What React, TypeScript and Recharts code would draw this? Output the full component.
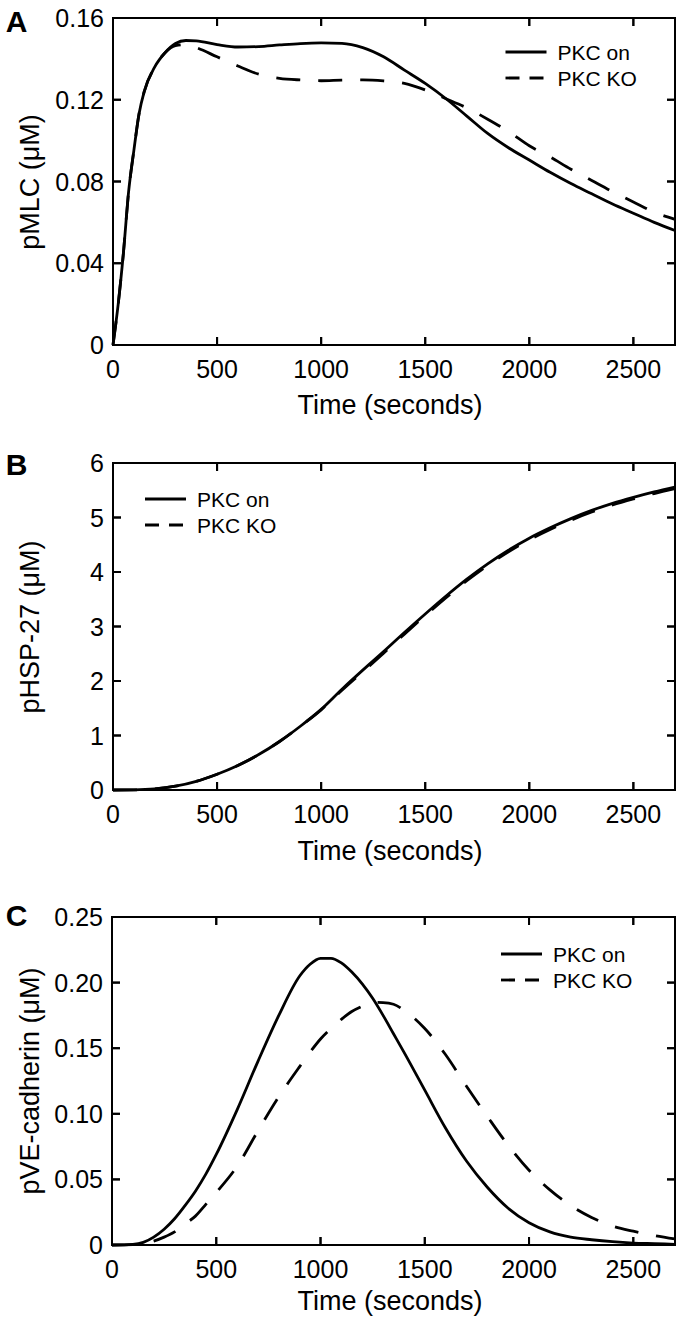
import React from "react";
import { LineChart, Line, XAxis, YAxis, ReferenceLine } from "recharts";

// ---------- DATA ----------
const xTicks = [0, 500, 1000, 1500, 2000, 2500];
const xMax = 2700;

const timeA = [0, 25, 50, 75, 100, 125, 150, 200, 250, 300, 350, 400, 500, 600, 700, 800, 900, 1000, 1100, 1200, 1300, 1400, 1500, 1600, 1700, 1800, 1900, 2000, 2100, 2200, 2300, 2400, 2500, 2600, 2700];
const pmlcOn = [0, 0.02, 0.045, 0.075, 0.095, 0.113, 0.124, 0.136, 0.143, 0.1475, 0.149, 0.1488, 0.147, 0.1458, 0.146, 0.1468, 0.1475, 0.1478, 0.1476, 0.1455, 0.141, 0.1345, 0.128, 0.1205, 0.112, 0.1035, 0.0965, 0.0905, 0.0845, 0.079, 0.074, 0.069, 0.0645, 0.060, 0.056];
const pmlcKO = [0, 0.02, 0.045, 0.075, 0.095, 0.113, 0.124, 0.136, 0.143, 0.1465, 0.147, 0.1455, 0.141, 0.1365, 0.1325, 0.1305, 0.1297, 0.1293, 0.1296, 0.1297, 0.1292, 0.128, 0.1248, 0.1205, 0.116, 0.1105, 0.1045, 0.0975, 0.092, 0.086, 0.0805, 0.075, 0.070, 0.065, 0.0615];
const yTicksA = [0, 0.04, 0.08, 0.12, 0.16];

const timeB = [0, 100, 200, 300, 400, 500, 600, 700, 800, 900, 1000, 1100, 1200, 1300, 1400, 1500, 1600, 1700, 1800, 1900, 2000, 2100, 2200, 2300, 2400, 2500, 2600, 2700];
const hspOn = [0, 0.003, 0.02, 0.07, 0.16, 0.29, 0.45, 0.65, 0.89, 1.17, 1.48, 1.85, 2.2, 2.54, 2.89, 3.23, 3.56, 3.87, 4.15, 4.4, 4.62, 4.81, 4.98, 5.13, 5.26, 5.37, 5.47, 5.56];
const hspKO = [0, 0.003, 0.02, 0.07, 0.16, 0.29, 0.45, 0.65, 0.89, 1.17, 1.47, 1.83, 2.17, 2.51, 2.86, 3.2, 3.53, 3.84, 4.12, 4.37, 4.59, 4.78, 4.95, 5.1, 5.23, 5.34, 5.44, 5.53];
const yTicksB = [0, 1, 2, 3, 4, 5, 6];

const timeC = [0, 100, 150, 200, 250, 300, 350, 400, 450, 500, 600, 700, 800, 900, 950, 1000, 1050, 1100, 1150, 1200, 1250, 1300, 1350, 1400, 1500, 1600, 1700, 1800, 1900, 2000, 2100, 2200, 2300, 2400, 2500, 2600, 2700];
const vecadOn = [0, 0.0005, 0.002, 0.006, 0.012, 0.02, 0.03, 0.041, 0.054, 0.069, 0.103, 0.14, 0.175, 0.205, 0.214, 0.2185, 0.2185, 0.215, 0.208, 0.199, 0.188, 0.175, 0.161, 0.147, 0.118, 0.089, 0.064, 0.044, 0.028, 0.017, 0.01, 0.006, 0.004, 0.0025, 0.0015, 0.001, 0.0005];
const vecadKO = [0, 0.0003, 0.001, 0.003, 0.006, 0.01, 0.016, 0.022, 0.031, 0.04, 0.06, 0.087, 0.113, 0.136, 0.147, 0.157, 0.165, 0.172, 0.178, 0.182, 0.185, 0.1848, 0.1835, 0.179, 0.165, 0.145, 0.121, 0.098, 0.076, 0.057, 0.042, 0.03, 0.021, 0.0145, 0.0105, 0.0072, 0.0046];
const yTicksC = [0, 0.05, 0.1, 0.15, 0.2, 0.25];

const legendLabels = ["PKC on", "PKC KO"];

// ---------- STYLE / LAYOUT ----------
const FONT = "'Liberation Sans', Arial, Helvetica, sans-serif";
const TICK_FS = 25;
const TITLE_FS = 27;
const LEG_FS = 21;
const TICK_LEN = 8;
const LINE_W = 2.8;
const DASH = "24 18";
const PLOT_RIGHT = 675;

const build = (t: number[], a: number[], b: number[]) =>
  t.map((x, i) => ({ t: x, on: a[i], ko: b[i] }));

const BottomTick = (plotH: number) => (p: any) => (
  <g>
    <rect x={p.x - 1} y={p.y - TICK_LEN} width={2} height={TICK_LEN} fill="black" />
    <rect x={p.x - 1} y={p.y - plotH} width={2} height={TICK_LEN} fill="black" />
    <text x={p.x} y={p.y + 33} textAnchor="middle" fontSize={TICK_FS} fontFamily={FONT} fill="black">
      {String(p.payload.value)}
    </text>
  </g>
);
const LeftTick = (fmt: (v: number) => string, plotW: number) => (p: any) => (
  <g>
    <rect x={p.x} y={p.y - 1} width={TICK_LEN} height={2} fill="black" />
    <rect x={p.x + plotW - TICK_LEN} y={p.y - 1} width={TICK_LEN} height={2} fill="black" />
    <text x={p.x - 9} y={p.y + 9} textAnchor="end" fontSize={TICK_FS} fontFamily={FONT} fill="black">
      {fmt(p.payload.value)}
    </text>
  </g>
);

type PanelProps = {
  data: any[];
  yMax: number;
  yTicks: number[];
  yFmt: (v: number) => string;
  top: number;
  height: number;
  plotTop: number;
  plotBottom: number;
  yAxisWidth: number;
};

const Panel = ({ data, yMax, yTicks, yFmt, top, height, plotTop, plotBottom, yAxisWidth }: PanelProps) => {
  const plotH = plotBottom - plotTop;
  const plotW = PLOT_RIGHT - yAxisWidth;
  return (
    <div style={{ position: "absolute", left: 0, top }}>
      <LineChart
        width={683}
        height={height}
        data={data}
        margin={{ top: plotTop, right: 683 - PLOT_RIGHT, bottom: height - plotBottom - 1, left: 0 }}
      >
        <XAxis
          dataKey="t"
          type="number"
          domain={[0, xMax]}
          ticks={xTicks}
          height={1}
          tickSize={0}
          tickMargin={0}
          tickLine={false}
          axisLine={{ stroke: "black", strokeWidth: 2 }}
          tick={BottomTick(plotH)}
          interval={0}
        />
        <YAxis
          type="number"
          domain={[0, yMax]}
          ticks={yTicks}
          width={yAxisWidth}
          tickSize={0}
          tickMargin={0}
          tickLine={false}
          axisLine={{ stroke: "black", strokeWidth: 2 }}
          tick={LeftTick(yFmt, plotW)}
          interval={0}
        />
        <ReferenceLine y={yMax} stroke="black" strokeWidth={2} ifOverflow="visible" />
        <ReferenceLine x={xMax} stroke="black" strokeWidth={2} ifOverflow="visible" />
        <Line
          dataKey="ko"
          type="monotone"
          stroke="black"
          strokeWidth={LINE_W}
          strokeDasharray={DASH}
          dot={false}
          isAnimationActive={false}
        />
        <Line
          dataKey="on"
          type="monotone"
          stroke="black"
          strokeWidth={LINE_W}
          dot={false}
          isAnimationActive={false}
        />
      </LineChart>
    </div>
  );
};

// Frame decoration (box + inward mirrored ticks) matching each panel's axes
const Frame = ({ left, right, top, bottom, yMax, yTicks }: { left: number; right: number; top: number; bottom: number; yMax: number; yTicks: number[] }) => {
  const sx = (v: number) => left + (v / xMax) * (right - left);
  const sy = (v: number) => bottom - (v / yMax) * (bottom - top);
  return (
    <g>
      <rect x={left} y={top} width={right - left} height={bottom - top} fill="none" stroke="black" strokeWidth={2} />
      {xTicks.map((v) => (
        <g key={"x" + v}>
          <line x1={sx(v)} y1={bottom} x2={sx(v)} y2={bottom - TICK_LEN} stroke="black" strokeWidth={2} />
          <line x1={sx(v)} y1={top} x2={sx(v)} y2={top + TICK_LEN} stroke="black" strokeWidth={2} />
        </g>
      ))}
      {yTicks.map((v) => (
        <g key={"y" + v}>
          <line x1={left} y1={sy(v)} x2={left + TICK_LEN} y2={sy(v)} stroke="black" strokeWidth={2} />
          <line x1={right} y1={sy(v)} x2={right - TICK_LEN} y2={sy(v)} stroke="black" strokeWidth={2} />
        </g>
      ))}
    </g>
  );
};

const LegendBox = ({ x, y }: { x: number; y: number }) => (
  <g>
    <line x1={x} y1={y} x2={x + 41} y2={y} stroke="black" strokeWidth={LINE_W} />
    <text x={x + 52} y={y + 7.5} fontSize={LEG_FS} fontFamily={FONT} fill="black">{legendLabels[0]}</text>
    <line x1={x} y1={y + 26} x2={x + 41} y2={y + 26} stroke="black" strokeWidth={LINE_W} strokeDasharray="14 10" />
    <text x={x + 52} y={y + 33.5} fontSize={LEG_FS} fontFamily={FONT} fill="black">{legendLabels[1]}</text>
  </g>
);

const YTitle = ({ cx, cy, text }: { cx: number; cy: number; text: string }) => (
  <text
    x={cx}
    y={cy}
    transform={`rotate(-90 ${cx} ${cy})`}
    textAnchor="middle"
    dominantBaseline="central"
    fontSize={TITLE_FS}
    fontFamily={FONT}
    fill="black"
  >
    {text}
  </text>
);

const XTitle = ({ cx, y }: { cx: number; y: number }) => (
  <text x={cx} y={y} textAnchor="middle" fontSize={TITLE_FS} fontFamily={FONT} fill="black">
    Time (seconds)
  </text>
);

const Letter = ({ x, y, t }: { x: number; y: number; t: string }) => (
  <text x={x} y={y} textAnchor="middle" fontSize={30} fontWeight="bold" fontFamily={FONT} fill="black">
    {t}
  </text>
);

export default function App() {
  const dataA = build(timeA, pmlcOn, pmlcKO);
  const dataB = build(timeB, hspOn, hspKO);
  const dataC = build(timeC, vecadOn, vecadKO);
  return (
    <div style={{ position: "absolute", left: 0, top: 0, width: 683, height: 1323 }}>
      <svg width={683} height={1323} style={{ position: "absolute", left: 0, top: 0, pointerEvents: "none" }}>
        <Frame left={113} right={PLOT_RIGHT} top={18} bottom={345} yMax={0.16} yTicks={yTicksA} />
        <Frame left={113} right={PLOT_RIGHT} top={463} bottom={790} yMax={6} yTicks={yTicksB} />
        <Frame left={112} right={PLOT_RIGHT} top={917} bottom={1245} yMax={0.25} yTicks={yTicksC} />
        <Letter x={16.5} y={32} t="A" />
        <Letter x={16.5} y={475} t="B" />
        <Letter x={16.5} y={926} t="C" />
        <YTitle cx={30} cy={182} text="pMLC (μM)" />
        <YTitle cx={30} cy={627} text="pHSP-27 (μM)" />
        <YTitle cx={30} cy={1081} text="pVE-cadherin (μM)" />
        <XTitle cx={390} y={414} />
        <XTitle cx={390} y={860} />
        <XTitle cx={390} y={1310} />
        <LegendBox x={505.5} y={52} />
        <LegendBox x={145} y={499} />
        <LegendBox x={501} y={954} />
      </svg>
      <Panel data={dataA} yMax={0.16} yTicks={yTicksA} yFmt={(v) => (v === 0 ? "0" : v.toFixed(2))}
        top={0} height={440} plotTop={18} plotBottom={345} yAxisWidth={113} />
      <Panel data={dataB} yMax={6} yTicks={yTicksB} yFmt={(v) => String(v)}
        top={440} height={440} plotTop={23} plotBottom={350} yAxisWidth={113} />
      <Panel data={dataC} yMax={0.25} yTicks={yTicksC} yFmt={(v) => (v === 0 ? "0" : v.toFixed(2))}
        top={880} height={443} plotTop={37} plotBottom={365} yAxisWidth={112} />
    </div>
  );
}
